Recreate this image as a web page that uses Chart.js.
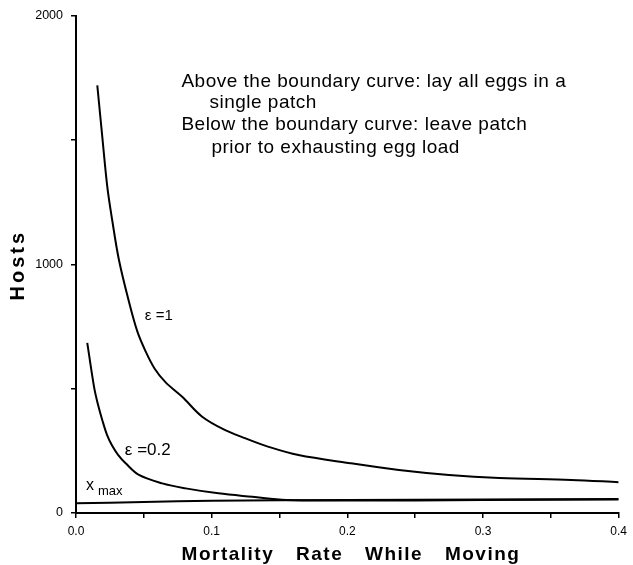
<!DOCTYPE html>
<html>
<head>
<meta charset="utf-8">
<script src="https://cdn.jsdelivr.net/npm/chart.js@4.4.1/dist/chart.umd.min.js"></script>
<style>
  html, body { margin: 0; padding: 0; background: #fff; }
  #wrap { width: 633px; height: 565px; }
</style>
</head>
<body>
<div id="wrap"><canvas id="mycanvas"></canvas></div>
<script>
// values
var eps1X = [0.0157, 0.0194, 0.0231, 0.0267, 0.0317, 0.039, 0.0452, 0.0513, 0.058, 0.0661, 0.0783, 0.093, 0.110, 0.125, 0.142, 0.164, 0.201, 0.238, 0.275, 0.312, 0.365, 0.4];
var eps1Y = [1719, 1511, 1310, 1177, 1016, 850, 730, 650, 580, 525, 467, 387, 333, 300, 266, 233, 201, 173, 153, 141, 133, 124];

var eps02X = [0.0083, 0.0133, 0.016, 0.0194, 0.023, 0.0267, 0.031, 0.0366, 0.0464, 0.0636, 0.0808, 0.105, 0.13, 0.155, 0.2, 0.3, 0.4];
var eps02Y = [684, 507, 440, 373, 312, 270, 234, 200, 153, 119, 99, 79, 65, 52, 50, 52, 54];

var xmaxX = [0, 0.05, 0.1, 0.2, 0.3, 0.4];
var xmaxY = [39, 44, 49, 52, 54, 56];

var xTicks = [0, 0.1, 0.2, 0.3, 0.4];
var yTicks = [0, 1000, 2000];

var noteLines = [
  "Above the boundary curve: lay all eggs in a",
  "single patch",
  "Below the boundary curve: leave patch",
  "prior to exhausting egg load"
];

function pts(xs, ys) {
  var out = [];
  for (var i in xs) out.push({x: xs[i], y: ys[i]});
  return out;
}

function lineSet(label, xs, ys) {
  return {
    label: label,
    data: pts(xs, ys),
    borderColor: "#000",
    borderWidth: 2,
    pointRadius: 0,
    fill: false,
    tension: 0.35
  };
}

var FONT = "'Liberation Sans', Arial, Helvetica, sans-serif";

var textPlugin = {
  id: "texts",
  afterDraw: function(chart) {
    var ctx = chart.ctx;
    var xs = chart.scales.x, ys = chart.scales.y;
    var area = chart.chartArea;
    ctx.save();
    ctx.fillStyle = "#000";
    ctx.textBaseline = "middle";
    ctx.textAlign = "left";

    // boundary notes
    ctx.font = "19px " + FONT;
    ctx.letterSpacing = "0.5px";
    var nx = xs.getPixelForValue(0.0777);
    var ny = ys.getPixelForValue(1735);
    ctx.fillText(noteLines[0], nx, ny);
    ctx.fillText(noteLines[1], nx + 28, ny + 21);
    ctx.fillText(noteLines[2], nx, ny + 43);
    ctx.fillText(noteLines[3], nx + 30, ny + 66);
    ctx.letterSpacing = "0px";

    // curve labels
    ctx.font = "15px " + FONT;
    ctx.fillText("\u03b5 =1", xs.getPixelForValue(0.0507), ys.getPixelForValue(791));
    ctx.font = "17px " + FONT;
    ctx.fillText("\u03b5 =0.2", xs.getPixelForValue(0.036), ys.getPixelForValue(252));
    ctx.font = "16px " + FONT;
    var px = xs.getPixelForValue(0.0073), py = ys.getPixelForValue(110);
    ctx.fillText("x", px, py);
    ctx.font = "13px " + FONT;
    ctx.fillText("max", px + 12, py + 6);

    // axis titles
    ctx.font = "bold 19px " + FONT;
    ctx.textAlign = "center";
    ctx.letterSpacing = "1.5px";
    ctx.wordSpacing = "15px";
    ctx.fillText("Mortality Rate While Moving", 351, 555);
    ctx.wordSpacing = "0px";
    ctx.letterSpacing = "3px";
    ctx.translate(18, (area.top + area.bottom) / 2 + 2);
    ctx.rotate(-Math.PI / 2);
    ctx.font = "bold 20px " + FONT;
    ctx.fillText("Hosts", 1, 0);
    ctx.restore();
  }
};

var ctx = document.getElementById("mycanvas");

var chart = new Chart(ctx, {
  type: "line",
  data: {
    datasets: [
      lineSet("\u03b5=1", eps1X, eps1Y),
      lineSet("\u03b5=0.2", eps02X, eps02Y),
      lineSet("x max", xmaxX, xmaxY)
    ]
  },
  options: {
    responsive: true,
    maintainAspectRatio: false,
    animation: { duration: 0 },
    layout: { padding: { top: 15, right: 13, left: 0, bottom: 0 } },
    plugins: {
      legend: { display: false },
      tooltip: { enabled: false }
    },
    scales: {
      x: {
        type: "linear",
        min: 0,
        max: 0.4,
        afterFit: function(s) { s.height = 52; },
        ticks: {
          stepSize: 0.05,
          color: "#000",
          font: { size: 12, family: FONT },
          padding: 6,
          maxRotation: 0,
          callback: function(v) {
            for (var i in xTicks) if (Math.abs(xTicks[i] - v) < 1e-6) return xTicks[i].toFixed(1);
            return "";
          }
        },
        grid: { drawOnChartArea: false, drawTicks: true, tickLength: 5, color: "#000", lineWidth: 1.5 },
        border: { display: true, color: "#000", width: 2 }
      },
      y: {
        min: 0,
        max: 2000,
        afterFit: function(s) { s.width = 76; },
        ticks: {
          stepSize: 500,
          color: "#000",
          font: { size: 12.5, family: FONT },
          padding: 8,
          callback: function(v) {
            return yTicks.indexOf(v) >= 0 ? String(v) : "";
          }
        },
        grid: { drawOnChartArea: false, drawTicks: true, tickLength: 5, color: "#000", lineWidth: 1.5 },
        border: { display: true, color: "#000", width: 2 }
      }
    }
  },
  plugins: [textPlugin]
});
</script>
</body>
</html>
